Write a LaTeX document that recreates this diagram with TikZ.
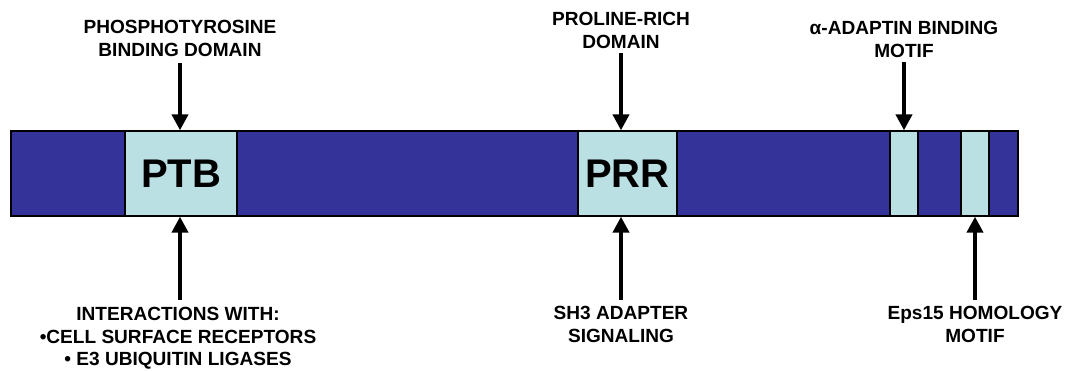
\documentclass[tikz,border=0pt]{standalone}
\usepackage{fontspec}
\setmainfont{Liberation Sans}
\usetikzlibrary{arrows.meta}
\definecolor{bardark}{HTML}{333399}
\definecolor{domlight}{HTML}{BBE0E3}
\begin{document}
\begin{tikzpicture}[x=0.75pt,y=-0.75pt,
  seg/.style={draw=black,line width=1pt,inner sep=0pt,minimum height=63.75pt},
  barbox/.style={seg,fill=bardark},
  dombox/.style={seg,fill=domlight,font=\bfseries\fontsize{30}{34}\selectfont},
  lbl/.style={align=center,inner sep=0pt,font=\bfseries\fontsize{14.3}{16.8}\selectfont},
  arr/.style={line width=3.5pt,-{Triangle[width=12pt,length=12pt]}}]
\useasboundingbox (0,0) rectangle (1065,371);
\node[barbox,minimum width=755.25pt] (bar) at (514.5,173.5) {};
\node[dombox,minimum width=84pt] (ptb) at (181,173.5) {PTB};
\node[dombox,minimum width=74.25pt] (prr) at (627.5,173.5) {PRR};
\node[dombox,minimum width=21pt] (ada) at (904,173.5) {};
\node[dombox,minimum width=21pt] (eps) at (975,173.5) {};
\node[lbl] (l1) at (180,38.5) {PHOSPHOTYROSINE\\BINDING DOMAIN};
\node[lbl] (l2) at (621,30.5) {PROLINE-RICH\\DOMAIN};
\node[lbl] (l3) at (904,39.5) {α-ADAPTIN BINDING\\MOTIF};
\node[lbl] (l4) at (178,338.5) {INTERACTIONS WITH:\\•CELL SURFACE RECEPTORS\\• E3 UBIQUITIN LIGASES};
\node[lbl] (l5) at (621,324.5) {SH3 ADAPTER\\SIGNALING};
\node[lbl] (l6) at (975,324.5) {Eps15 HOMOLOGY\\MOTIF};
\coordinate (a1) at (180,63);
\coordinate (a2) at (621,53);
\coordinate (a3) at (904,62);
\coordinate (b1) at (180,300);
\coordinate (b2) at (621,300);
\coordinate (b3) at (975,300);
\draw[arr] (a1) -- (a1 |- ptb.north);
\draw[arr] (a2) -- (a2 |- prr.north);
\draw[arr] (a3) -- (a3 |- ada.north);
\draw[arr] (b1) -- (b1 |- ptb.south);
\draw[arr] (b2) -- (b2 |- prr.south);
\draw[arr] (b3) -- (b3 |- eps.south);
\end{tikzpicture}
\end{document}
